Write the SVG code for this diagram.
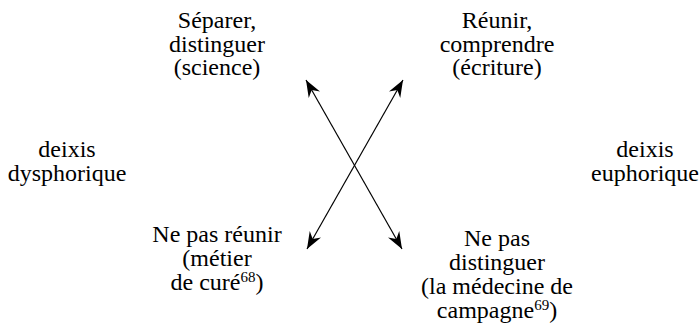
<svg xmlns="http://www.w3.org/2000/svg" width="700" height="329" viewBox="0 0 700 329">
  <style>
    text { font-family: "Liberation Serif", "Times New Roman", serif; font-size: 24px; fill: #000; text-anchor: middle; }
    .sup { font-size: 15px; }
    .link { stroke: #000; stroke-width: 1.2; fill: none; marker-start: url(#head); marker-end: url(#head); }
  </style>
  <defs>
    <marker id="head" viewBox="-17 -7 18 14" markerWidth="18" markerHeight="14" refX="0" refY="0" markerUnits="userSpaceOnUse" orient="auto-start-reverse">
      <path d="M0,0 L-17,-6.5 L-11.5,0 L-17,6.5 Z" fill="#000"/>
    </marker>
  </defs>
  <rect width="700" height="329" fill="#fff"/>

  <g id="separer">
    <text x="217" y="28">Séparer,</text>
    <text x="217" y="52">distinguer</text>
    <text x="217" y="75">(science)</text>
  </g>
  <g id="reunir">
    <text x="497" y="28">Réunir,</text>
    <text x="497" y="52">comprendre</text>
    <text x="497" y="75">(écriture)</text>
  </g>
  <g id="deixis-dysphorique">
    <text x="67" y="157">deixis</text>
    <text x="67" y="181">dysphorique</text>
  </g>
  <g id="deixis-euphorique">
    <text x="645" y="157">deixis</text>
    <text x="645" y="181">euphorique</text>
  </g>
  <g id="ne-pas-reunir">
    <text x="217" y="242">Ne pas réunir</text>
    <text x="217" y="266">(métier</text>
    <text x="217" y="290">de curé<tspan class="sup" dy="-8">68</tspan><tspan dy="8">)</tspan></text>
  </g>
  <g id="ne-pas-distinguer">
    <text x="497" y="246">Ne pas</text>
    <text x="497" y="270">distinguer</text>
    <text x="497" y="294">(la médecine de</text>
    <text x="497" y="318">campagne<tspan class="sup" dy="-8">69</tspan><tspan dy="8">)</tspan></text>
  </g>

  <g id="connectors">
    <line class="link" x1="306" y1="80" x2="402" y2="249"/>
    <line class="link" x1="403" y1="80" x2="307" y2="249"/>
  </g>
</svg>
